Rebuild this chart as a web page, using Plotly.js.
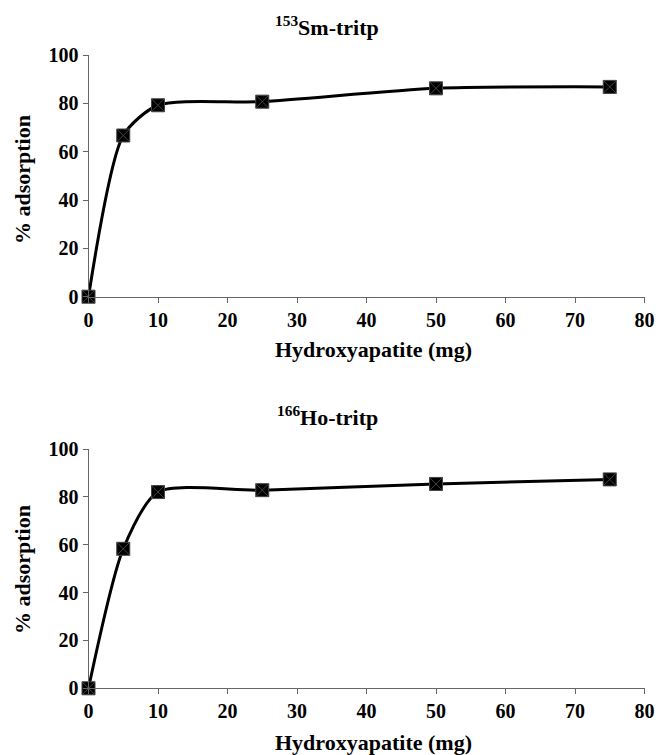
<!DOCTYPE html>
<html>
<head>
<meta charset="utf-8">
<script src="https://cdn.plot.ly/plotly-3.0.1.min.js"></script>
<style>
html,body{margin:0;padding:0;background:#fff;}
#chart{width:656px;height:755px;}
#fontwarm{position:absolute;left:-9999px;top:0;visibility:hidden;font-family:'Liberation Serif';font-weight:bold;font-size:22px;}
</style>
</head>
<body>
<div id="fontwarm" aria-hidden="true">Hydroxyapatite</div>
<div id="chart"></div>
<script>
// Data
const massMg = [0, 5, 10, 25, 50, 75];
const smAdsorption = [0, 66.7, 79.2, 80.7, 86.2, 86.8];
const hoAdsorption = [0, 58.3, 82.0, 82.8, 85.4, 87.3];
const titleSm = "<b><sup>153</sup>Sm-tritp</b>";
const titleHo = "<b><sup>166</sup>Ho-tritp</b>";
const xTitle = "<b>Hydroxyapatite (mg)</b>";
const yTitle = "<b>% adsorption</b>";
const xTicks = [0, 10, 20, 30, 40, 50, 60, 70, 80];
const yTicks = [0, 20, 40, 60, 80, 100];

const FONT = "Liberation Serif";
const W = 656, H = 755;

function trace(y, xa, ya) {
  return {
    x: massMg, y: y, xaxis: xa, yaxis: ya,
    type: 'scatter', mode: 'lines+markers',
    line: {shape: 'spline', smoothing: 0.7, color: '#000', width: 3},
    marker: {symbol: 'square-x', size: 13, color: '#000', line: {color: '#444', width: 1}},
    cliponaxis: false, showlegend: false, hoverinfo: 'skip'
  };
}

const xBase = {
  range: [0, 80], tickvals: xTicks, ticktext: xTicks.map(v => '<b>' + v + '</b>'),
  showline: true, linecolor: '#666', linewidth: 1, ticks: 'outside', ticklen: 5, tickcolor: '#666',
  showgrid: false, zeroline: false, fixedrange: true,
  tickfont: {family: FONT, size: 20, color: '#000'},
  domain: [88.5 / W, 644.5 / W]
};
const yBase = {
  range: [0, 100], tickvals: yTicks, ticktext: yTicks.map(v => '<b>' + v + '</b>'),
  showline: true, linecolor: '#666', linewidth: 1, ticks: 'outside', ticklen: 5, tickcolor: '#666',
  showgrid: false, zeroline: false, fixedrange: true,
  tickfont: {family: FONT, size: 20, color: '#000'}
};

const ann = (text, x, y, extra) => Object.assign({
  text: text, x: x / W, y: 1 - y / H, xref: 'paper', yref: 'paper',
  xanchor: 'center', yanchor: 'middle', showarrow: false,
  font: {family: FONT, size: 22, color: '#000'}
}, extra || {});

const layout = {
  width: W, height: H,
  margin: {l: 0, r: 0, t: 0, b: 0},
  paper_bgcolor: '#fff', plot_bgcolor: '#fff',
  font: {family: FONT, color: '#000'},
  xaxis: Object.assign({}, xBase, {anchor: 'y'}),
  yaxis: Object.assign({}, yBase, {anchor: 'x', domain: [1 - 296.7 / H, 1 - 55 / H]}),
  xaxis2: Object.assign({}, xBase, {anchor: 'y2'}),
  yaxis2: Object.assign({}, yBase, {anchor: 'x2', domain: [1 - 688.3 / H, 1 - 449 / H]}),
  annotations: [
    ann(titleSm, 327, 26),
    ann(titleHo, 327, 416),
    ann(xTitle, 374, 350),
    ann(xTitle, 374, 742),
    ann(yTitle, 22, 180, {textangle: -90}),
    ann(yTitle, 22, 570, {textangle: -90})
  ]
};

function draw() {
  Plotly.newPlot('chart', [trace(smAdsorption, 'x', 'y'), trace(hoAdsorption, 'x2', 'y2')], layout, {staticPlot: true, displayModeBar: false});
}
draw();
if (document.fonts && document.fonts.load) {
  document.fonts.load("bold 22px 'Liberation Serif'").then(draw, function () {});
}
</script>
</body>
</html>
